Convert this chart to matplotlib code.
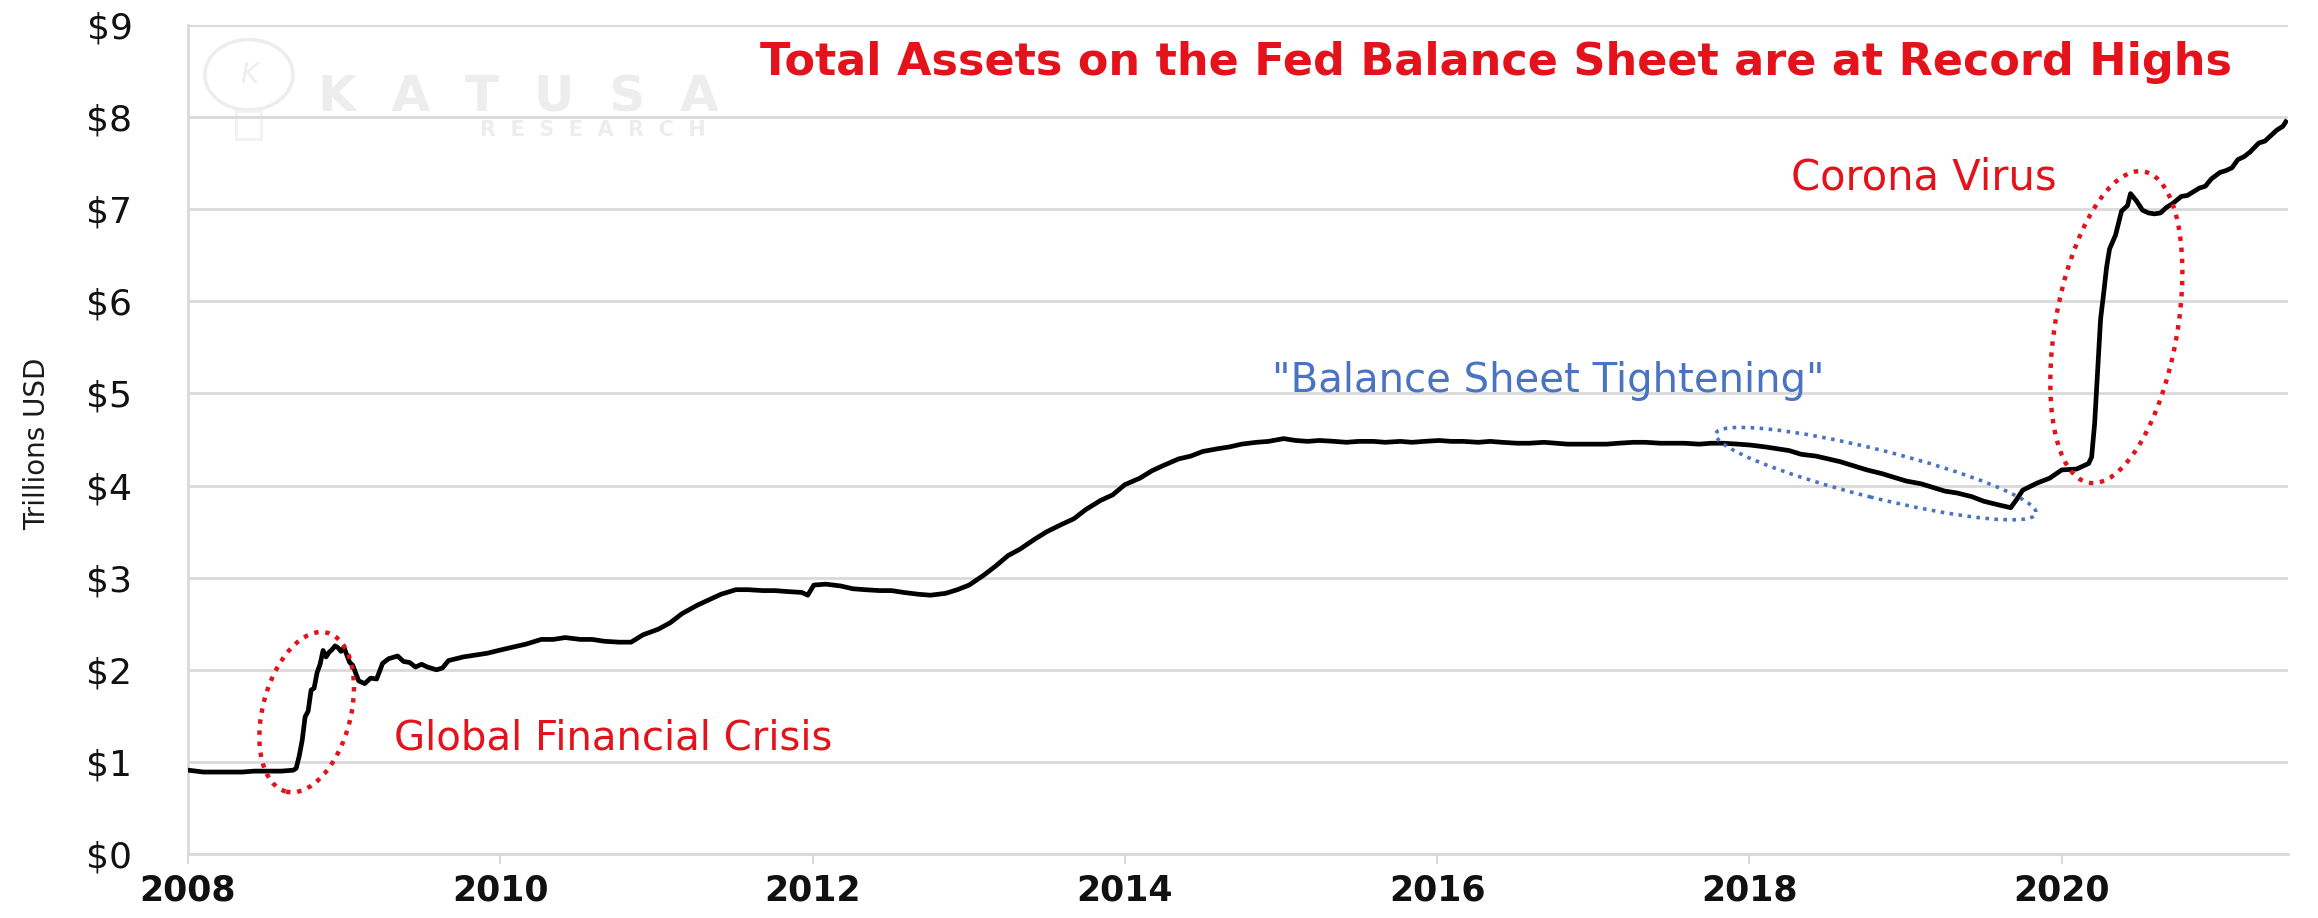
import pandas as pd
import matplotlib.pyplot as plt
import matplotlib.transforms as mtransforms
from matplotlib.patches import Ellipse, Rectangle

# Fed total assets, trillions USD
dates = [
    "2008-01-02", "2008-02-06", "2008-03-05", "2008-04-02", "2008-05-07", "2008-06-04",
    "2008-07-02", "2008-08-06", "2008-09-03", "2008-09-10", "2008-09-17", "2008-09-24",
    "2008-10-01", "2008-10-08", "2008-10-15", "2008-10-22", "2008-10-29", "2008-11-05",
    "2008-11-12", "2008-11-19", "2008-11-26", "2008-12-03", "2008-12-10", "2008-12-17",
    "2008-12-24", "2008-12-31", "2009-01-14", "2009-01-21", "2009-02-04", "2009-02-18",
    "2009-03-04", "2009-03-18", "2009-04-01", "2009-04-15", "2009-05-06", "2009-05-20",
    "2009-06-03", "2009-06-17", "2009-07-01", "2009-07-15", "2009-08-05", "2009-08-19",
    "2009-09-02", "2009-10-07", "2009-11-04", "2009-12-02",
    "2010-01-06", "2010-02-03", "2010-03-03", "2010-04-07", "2010-05-05", "2010-06-02",
    "2010-07-07", "2010-08-04", "2010-09-01", "2010-10-06", "2010-11-03", "2010-12-01",
    "2011-01-05", "2011-02-02", "2011-03-02", "2011-04-06", "2011-05-04", "2011-06-01",
    "2011-07-06", "2011-08-03", "2011-09-07", "2011-10-05", "2011-11-02", "2011-12-07",
    "2011-12-21", "2012-01-04", "2012-02-01", "2012-03-07", "2012-04-04", "2012-05-02",
    "2012-06-06", "2012-07-04", "2012-08-01", "2012-09-05", "2012-10-03", "2012-11-07",
    "2012-12-05", "2013-01-02", "2013-02-06", "2013-03-06", "2013-04-03", "2013-05-01",
    "2013-06-05", "2013-07-03", "2013-08-07", "2013-09-04", "2013-10-02", "2013-11-06",
    "2013-12-04", "2014-01-01", "2014-02-05", "2014-03-05", "2014-04-02", "2014-05-07",
    "2014-06-04", "2014-07-02", "2014-08-06", "2014-09-03", "2014-10-01", "2014-11-05",
    "2014-12-03", "2015-01-07", "2015-02-04", "2015-03-04", "2015-04-01", "2015-05-06",
    "2015-06-03", "2015-07-01", "2015-08-05", "2015-09-02", "2015-10-07", "2015-11-04",
    "2015-12-02", "2016-01-06", "2016-02-03", "2016-03-02", "2016-04-06", "2016-05-04",
    "2016-06-01", "2016-07-06", "2016-08-03", "2016-09-07", "2016-10-05", "2016-11-02",
    "2016-12-07", "2017-01-04", "2017-02-01", "2017-03-01", "2017-04-05", "2017-05-03",
    "2017-06-07", "2017-07-05", "2017-08-02", "2017-09-06", "2017-10-04", "2017-11-01",
    "2017-12-06", "2018-01-03", "2018-02-07", "2018-03-07", "2018-04-04", "2018-05-02",
    "2018-06-06", "2018-07-04", "2018-08-01", "2018-09-05", "2018-10-03", "2018-11-07",
    "2018-12-05", "2019-01-02", "2019-02-06", "2019-03-06", "2019-04-03", "2019-05-01",
    "2019-06-05", "2019-07-03", "2019-08-07", "2019-09-04", "2019-09-18", "2019-10-02",
    "2019-11-06", "2019-12-04", "2020-01-01", "2020-02-05", "2020-03-04", "2020-03-11",
    "2020-03-18", "2020-03-25", "2020-04-01", "2020-04-08", "2020-04-15", "2020-04-22",
    "2020-05-06", "2020-05-20", "2020-06-03", "2020-06-10", "2020-06-24", "2020-07-08",
    "2020-07-22", "2020-08-05", "2020-08-19", "2020-09-02", "2020-09-16", "2020-10-07",
    "2020-10-21", "2020-11-04", "2020-11-18", "2020-12-02", "2020-12-16", "2021-01-06",
    "2021-01-20", "2021-02-03", "2021-02-17", "2021-03-03", "2021-03-17", "2021-04-07",
    "2021-04-21", "2021-05-05", "2021-05-19", "2021-06-02", "2021-06-09",
]
assets = [
    0.91, 0.89, 0.89, 0.89, 0.89, 0.90,
    0.90, 0.90, 0.91, 0.93, 1.06, 1.23,
    1.49, 1.55, 1.78, 1.80, 1.97, 2.06,
    2.21, 2.14, 2.19, 2.22, 2.26, 2.24,
    2.20, 2.24, 2.08, 2.05, 1.88, 1.85,
    1.91, 1.90, 2.07, 2.12, 2.15, 2.09,
    2.08, 2.03, 2.06, 2.03, 2.00, 2.02,
    2.10, 2.14, 2.16, 2.18,
    2.22, 2.25, 2.28, 2.33, 2.33, 2.35,
    2.33, 2.33, 2.31, 2.30, 2.30, 2.38,
    2.44, 2.51, 2.61, 2.70, 2.76, 2.82,
    2.87, 2.87, 2.86, 2.86, 2.85, 2.84,
    2.81, 2.92, 2.93, 2.91, 2.88, 2.87,
    2.86, 2.86, 2.84, 2.82, 2.81, 2.83,
    2.87, 2.92, 3.03, 3.13, 3.24, 3.31,
    3.42, 3.50, 3.58, 3.64, 3.74, 3.84,
    3.90, 4.01, 4.08, 4.16, 4.22, 4.29,
    4.32, 4.37, 4.40, 4.42, 4.45, 4.47,
    4.48, 4.51, 4.49, 4.48, 4.49, 4.48,
    4.47, 4.48, 4.48, 4.47, 4.48, 4.47,
    4.48, 4.49, 4.48, 4.48, 4.47, 4.48,
    4.47, 4.46, 4.46, 4.47, 4.46, 4.45,
    4.45, 4.45, 4.45, 4.46, 4.47, 4.47,
    4.46, 4.46, 4.46, 4.45, 4.46, 4.46,
    4.45, 4.44, 4.42, 4.40, 4.38, 4.34,
    4.32, 4.29, 4.26, 4.21, 4.17, 4.13,
    4.09, 4.05, 4.02, 3.98, 3.94, 3.92,
    3.88, 3.83, 3.79, 3.76, 3.85, 3.95,
    4.03, 4.08, 4.17, 4.18, 4.24, 4.31,
    4.67, 5.25, 5.81, 6.08, 6.37, 6.57,
    6.72, 6.98, 7.04, 7.17, 7.09, 6.99,
    6.96, 6.95, 6.96, 7.02, 7.06, 7.14,
    7.15, 7.19, 7.23, 7.25, 7.33, 7.40,
    7.42, 7.45, 7.54, 7.57, 7.62, 7.72,
    7.74, 7.80, 7.86, 7.90, 7.95,
]

year_ticks = [2008, 2010, 2012, 2014, 2016, 2018, 2020]
dollar_ticks = list(range(0, 10))

title = "Total Assets on the Fed Balance Sheet are at Record Highs"
red = "#E3121B"
blue = "#4A74C2"
grid = "#D9D9D9"
mark = "#EDEDED"

d = pd.to_datetime(pd.Series(dates))
x = d.dt.year + (d.dt.dayofyear - 1) / 365.25

fig = plt.figure(figsize=(23.18, 9.18), dpi=100)
ax = fig.add_axes([0.0811, 0.0697, 0.906, 0.903])

ax.plot(x, assets, color="black", lw=3.4, zorder=3)

ax.set_xlim(2008, 2021.45)
ax.set_ylim(0, 9)
ax.set_yticks(dollar_ticks)
ax.set_yticklabels([f"${v}" for v in dollar_ticks])
ax.set_xticks(year_ticks)
ax.set_xticklabels([str(v) for v in year_ticks])
ax.yaxis.grid(True, color=grid, lw=2)
ax.set_axisbelow(True)
for s in ["top", "right"]:
    ax.spines[s].set_visible(False)
ax.spines["left"].set_color(grid)
ax.spines["left"].set_linewidth(2)
ax.spines["bottom"].set_color(grid)
ax.spines["bottom"].set_linewidth(2)
ax.tick_params(axis="y", length=0, pad=40, labelsize=26, labelcolor="#111111")
ax.tick_params(axis="x", length=7, width=1.5, color=grid, pad=7, labelsize=25, labelcolor="#111111")
for lab in ax.get_xticklabels():
    lab.set_fontweight("bold")

fig.text(0.016, 0.517, "Trillions USD", rotation=90, ha="center", va="center",
         fontsize=20, family=["Liberation Sans Narrow", "DejaVu Sans"], color="#1a1a1a")

# watermark
ax.text(0.062, 0.913, "K  A  T  U  S  A", transform=ax.transAxes, fontsize=36, fontweight="bold",
        color=mark, va="center", zorder=0)
ax.text(0.139, 0.874, "R  E  S  E  A  R  C  H", transform=ax.transAxes, fontsize=15,
        fontweight="bold", color=mark, va="center", zorder=0)
ax.add_patch(Ellipse((0.029, 0.94), 0.042, 0.085, transform=ax.transAxes, fill=False,
                     ec=mark, lw=2.5, zorder=0))
ax.add_patch(Rectangle((0.023, 0.862), 0.012, 0.034, transform=ax.transAxes, fill=False,
                       ec="#F2F2F2", lw=2, zorder=0))
ax.text(0.029, 0.94, "K", transform=ax.transAxes, fontsize=20, color=mark,
        ha="center", va="center", style="italic", zorder=0)

# titles and annotations
ax.text(0.623, 0.955, title, transform=ax.transAxes, ha="center", va="center",
        fontsize=32, fontweight="bold", color=red)
ax.text(2010.72, 1.25, "Global Financial Crisis", ha="center", va="center", fontsize=29, color=red)
ax.text(2019.12, 7.35, "Corona Virus", ha="center", va="center", fontsize=30, color=red)
ax.text(2016.71, 5.14, '"Balance Sheet Tightening"', ha="center", va="center", fontsize=29, color=blue)


def ring(cx, cy, w, h, angle, color, lw):
    # ellipse sized in pixels, centred on a data point
    tr = fig.dpi_scale_trans + mtransforms.ScaledTranslation(cx, cy, ax.transData)
    ax.add_patch(Ellipse((0, 0), w / 100, h / 100, angle=angle, transform=tr, fill=False,
                         ec=color, lw=lw, ls=(0, (1, 1.5)), zorder=4))


ring(2008.76, 1.54, 88, 164, -14.5, red, 3.2)
ring(2020.35, 5.72, 122, 316, -10, red, 3.2)
ring(2018.81, 4.13, 330, 48, -14, blue, 2.6)

fig.savefig("out.png", dpi=100)
